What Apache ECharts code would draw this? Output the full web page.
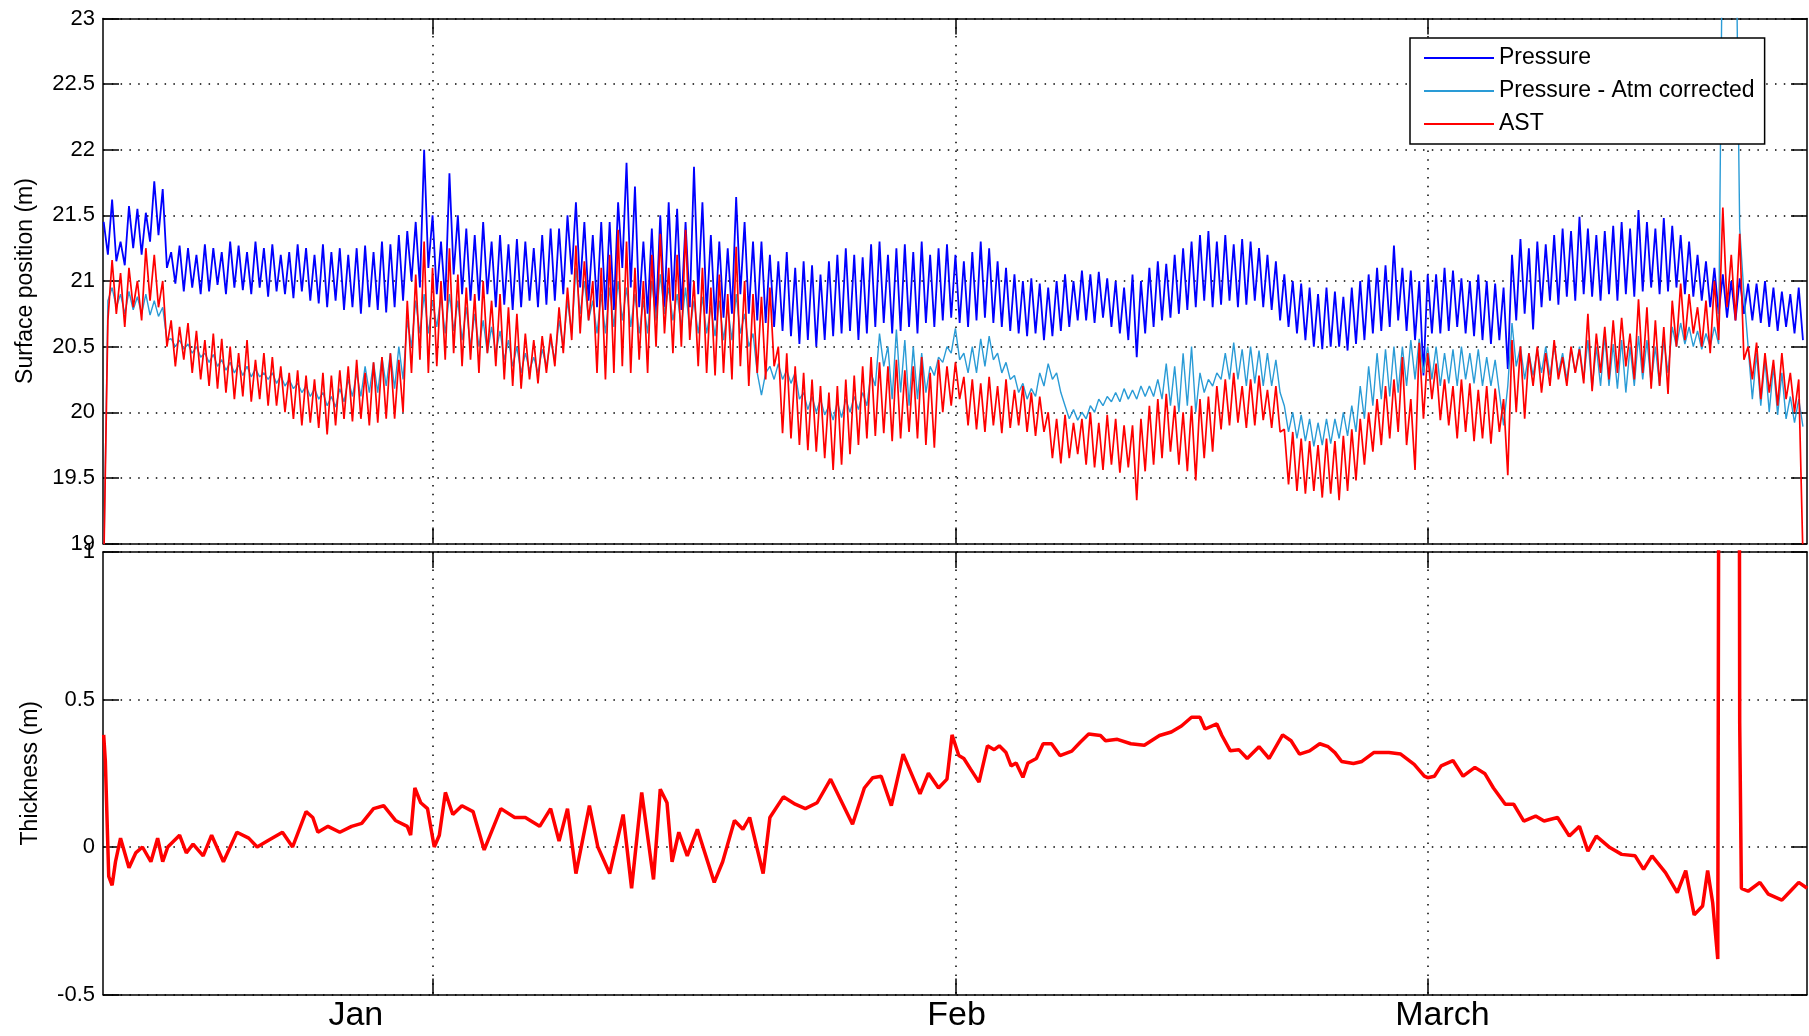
<!DOCTYPE html>
<html>
<head>
<meta charset="utf-8">
<title>Surface position / thickness</title>
<script src="https://cdn.jsdelivr.net/npm/echarts@6/dist/echarts.min.js"></script>
<style>
  html, body {margin: 0; padding: 0; background: #fff;}
  #chart {width: 1809px; height: 1036px;}
</style>
</head>
<body>
<div id="chart"></div>
<script>
// x = days from 1 Jan, top panel sampled every 6 h starting 12 Dec 12:00
var startDay = -19.5;
var stepDay = 0.25;

var pressure = [
  21.45,21.2,21.62,21.15, 21.3,21.12,21.57,21.25, 21.55,21.2,21.52,21.3, 21.76,21.35,21.7,21.1,
  21.22,20.98,21.27,20.92, 21.25,20.95,21.2,20.9, 21.28,20.92,21.25,20.97, 21.22,20.9,21.3,20.95,
  21.27,20.93,21.22,20.9, 21.3,20.95,21.25,20.88, 21.28,20.92,21.2,20.9, 21.22,20.87,21.28,20.92,
  21.25,20.85,21.2,20.83, 21.28,20.8,21.22,20.85, 21.25,20.78,21.2,20.8, 21.25,20.75,21.27,20.8,
  21.22,20.78,21.3,20.76, 21.28,20.8,21.35,20.85, 21.38,21.0,21.45,20.95, 22.0,21.1,21.5,20.9,
  21.3,20.85,21.82,21.05, 21.5,20.9,21.4,20.85, 21.35,20.85,21.45,20.9, 21.3,20.8,21.35,20.82,
  21.28,20.78,21.32,20.8, 21.3,20.85,21.25,20.8, 21.35,20.82,21.4,20.85, 21.4,20.9,21.5,21.05,
  21.6,20.95,21.45,20.85, 21.35,20.8,21.45,20.78, 21.45,20.78,21.6,21.1, 21.9,20.95,21.72,20.8,
  21.3,20.75,21.4,20.72, 21.5,20.8,21.6,20.85, 21.55,20.78,21.45,20.8, 21.87,20.9,21.6,20.75,
  21.35,20.7,21.3,20.72, 21.25,20.75,21.64,20.9, 21.45,20.75,21.3,20.7, 21.3,20.68,21.2,20.65,
  21.15,20.62,21.22,20.58, 21.1,20.52,21.15,20.55, 21.12,20.5,21.05,20.55, 21.15,20.58,21.2,20.6,
  21.25,20.62,21.2,20.55, 21.18,20.6,21.28,20.65, 21.3,20.68,21.2,20.6, 21.25,20.62,21.28,20.65,
  21.22,20.6,21.3,20.68, 21.2,20.65,21.25,20.7, 21.28,20.72,21.2,20.68, 21.15,20.65,21.22,20.7,
  21.3,20.72,21.25,20.68, 21.15,20.65,21.1,20.62, 21.05,20.6,21.0,20.58, 21.02,20.6,20.98,20.55,
  20.95,20.58,21.0,20.62, 21.05,20.65,21.0,20.7, 21.08,20.7,21.05,20.68, 21.07,20.72,21.02,20.65,
  21.0,20.6,20.95,20.55, 21.05,20.42,21.0,20.6, 21.1,20.65,21.15,20.7, 21.13,20.72,21.2,20.75,
  21.25,20.78,21.3,20.8, 21.35,20.85,21.38,20.8, 21.3,20.82,21.35,20.85, 21.28,20.8,21.32,20.82,
  21.3,20.85,21.25,20.8, 21.2,20.78,21.15,20.7, 21.05,20.65,21.0,20.6, 20.98,20.55,20.95,20.5,
  20.9,20.48,20.95,20.5, 20.92,20.5,20.88,20.47, 20.95,20.52,21.0,20.55, 21.05,20.6,21.1,20.62,
  21.12,20.65,21.27,20.7, 21.1,20.62,21.08,20.55, 21.0,20.28,21.05,20.6, 21.05,20.6,21.1,20.62,
  21.08,20.65,21.02,20.6, 21.0,20.58,21.05,20.55, 21.0,20.52,20.98,20.55, 20.95,20.33,21.2,20.7,
  21.32,20.75,21.25,20.63, 21.3,20.8,21.28,20.85, 21.35,20.82,21.4,20.88, 21.38,20.85,21.49,20.9,
  21.4,20.88,21.35,20.85, 21.38,20.9,21.42,20.85, 21.45,20.9,21.4,20.88, 21.54,20.92,21.45,20.95,
  21.4,20.9,21.48,20.92, 21.42,20.95,21.35,20.9, 21.3,20.88,21.2,20.85, 21.15,20.8,21.1,20.75,
  21.05,20.72,21.0,20.7, 21.02,20.75,20.98,20.7, 20.98,20.68,21.0,20.65, 20.95,20.62,20.92,20.65,
  20.9,20.6,20.95,20.55
];

var pressureAtm = [
  18.8,20.85,20.95,20.8, 20.9,20.75,20.92,20.78, 20.88,20.75,20.9,20.74, 20.85,20.73,20.8,20.55,
  20.56,20.5,20.55,20.48, 20.52,20.45,20.5,20.42, 20.45,20.38,20.44,20.35, 20.4,20.32,20.38,20.3,
  20.36,20.28,20.35,20.27, 20.33,20.27,20.3,20.25, 20.3,20.22,20.28,20.2, 20.25,20.18,20.22,20.15,
  20.2,20.12,20.18,20.1, 20.15,20.05,20.12,20.04, 20.18,20.08,20.25,20.12, 20.3,20.12,20.35,20.15,
  20.38,20.15,20.42,20.2, 20.45,20.18,20.5,20.25, 20.7,20.5,20.85,20.6, 20.9,20.6,20.85,20.65,
  20.88,20.6,20.9,20.62, 20.85,20.55,20.8,20.5, 20.75,20.5,20.7,20.45, 20.65,20.45,20.62,20.4,
  20.55,20.35,20.5,20.3, 20.45,20.32,20.42,20.3, 20.48,20.35,20.55,20.4, 20.7,20.5,20.85,20.6,
  21.1,20.75,21.0,20.7, 20.85,20.6,20.9,20.6, 20.95,20.65,21.0,20.7, 20.95,20.65,20.9,20.6,
  20.85,20.6,21.0,20.7, 21.05,20.75,20.95,20.7, 20.9,20.65,20.95,20.62, 20.85,20.6,20.88,20.6,
  20.8,20.58,20.85,20.55, 20.8,20.55,20.9,20.6, 20.75,20.5,20.6,20.3, 20.13,20.3,20.35,20.25,
  20.37,20.25,20.32,20.22, 20.3,20.1,20.15,20.02, 20.12,20.0,20.1,19.98, 20.05,19.94,20.08,19.96,
  20.1,20.0,20.12,20.02, 20.15,20.05,20.3,20.2, 20.6,20.35,20.5,20.1, 20.63,20.15,20.55,20.05,
  20.5,20.1,20.45,20.15, 20.35,20.28,20.42,20.38, 20.5,20.45,20.64,20.4, 20.45,20.3,20.5,20.3,
  20.56,20.35,20.58,20.4, 20.45,20.3,20.38,20.25, 20.28,20.15,20.22,20.1, 20.18,20.12,20.3,20.2,
  20.37,20.25,20.3,20.15, 20.05,19.95,20.02,19.94, 20.0,19.95,20.05,20.0, 20.1,20.05,20.12,20.08,
  20.15,20.08,20.18,20.1, 20.17,20.1,20.2,20.12, 20.2,20.12,20.25,20.1, 20.37,20.05,20.35,20.0,
  20.45,20.05,20.5,20.0, 20.3,20.15,20.25,20.2, 20.3,20.25,20.45,20.25, 20.53,20.25,20.48,20.2,
  20.5,20.22,20.47,20.2, 20.45,20.2,20.4,20.15, 20.05,19.85,20.0,19.8, 19.98,19.78,19.95,19.74,
  19.92,19.75,19.95,19.76, 19.95,19.8,20.0,19.82, 20.05,19.85,20.2,19.95, 20.35,20.05,20.45,20.1,
  20.48,20.12,20.5,20.15, 20.5,20.2,20.55,20.25, 20.56,20.3,20.5,20.25, 20.5,20.2,20.45,20.22,
  20.48,20.2,20.5,20.25, 20.45,20.22,20.48,20.2, 20.42,20.2,20.4,20.15, 19.9,20.2,20.68,20.35,
  20.5,20.25,20.45,20.28, 20.48,20.3,20.5,20.28, 20.5,20.3,20.45,20.25, 20.48,20.3,20.5,20.25,
  20.55,20.18,20.5,20.2, 20.58,20.2,20.52,20.18, 20.55,20.15,20.5,20.2, 20.58,20.25,20.55,20.22,
  20.5,20.2,20.55,20.3, 20.65,20.5,20.68,20.52, 20.65,20.5,20.62,20.48, 20.6,20.5,20.65,20.52,
  24.0,24.0,24.0,24.0, 21.4,20.9,20.5,20.1, 20.45,20.05,20.4,20.0, 20.35,19.98,20.3,19.95,
  20.12,19.92,20.1,19.89
];

var ast = [
  18.8,20.7,21.16,20.75, 21.06,20.65,21.1,20.8, 21.0,20.7,21.25,20.85, 21.2,20.8,21.0,20.5,
  20.7,20.35,20.65,20.4, 20.68,20.3,20.62,20.25, 20.55,20.2,20.6,20.18, 20.56,20.15,20.5,20.1,
  20.45,20.12,20.55,20.08, 20.4,20.1,20.45,20.05, 20.42,20.05,20.35,20.0, 20.3,19.95,20.32,19.9,
  20.28,19.92,20.25,19.88, 20.3,19.83,20.28,19.9, 20.32,19.95,20.35,19.93, 20.4,19.95,20.3,19.9,
  20.38,19.92,20.42,19.95, 20.45,19.95,20.4,20.0, 20.85,20.3,21.05,20.4, 21.3,20.3,21.1,20.35,
  21.0,20.4,21.25,20.45, 21.05,20.35,20.95,20.4, 20.9,20.3,21.0,20.45, 20.85,20.35,20.9,20.25,
  20.8,20.2,20.75,20.18, 20.6,20.25,20.55,20.22, 20.58,20.3,20.6,20.35, 20.8,20.45,20.95,20.55,
  21.27,20.6,21.15,20.7, 21.0,20.3,21.1,20.25, 21.2,20.3,21.39,20.35, 21.3,20.3,21.1,20.4,
  21.0,20.3,21.2,20.5, 21.36,20.6,21.1,20.45, 21.2,20.5,21.39,20.55, 21.0,20.35,21.1,20.3,
  20.95,20.28,21.05,20.3, 20.9,20.25,21.26,20.35, 21.0,20.2,20.9,20.3, 20.88,20.25,20.95,20.35,
  20.5,19.84,20.45,19.8, 20.35,19.75,20.3,19.71, 20.25,19.7,20.2,19.65, 20.15,19.56,20.2,19.6,
  20.25,19.68,20.28,19.75, 20.35,19.8,20.42,19.82, 20.38,19.84,20.35,19.78, 20.4,19.8,20.32,19.85,
  20.35,19.8,20.42,19.75, 20.3,19.73,20.4,20.0, 20.35,20.05,20.38,20.1, 20.27,19.9,20.25,19.87,
  20.22,19.85,20.27,19.9, 20.2,19.84,20.25,19.88, 20.17,19.9,20.2,19.85, 20.15,19.82,20.12,19.85,
  20.0,19.65,19.95,19.61, 19.98,19.65,19.92,19.68, 19.95,19.6,20.0,19.58, 19.92,19.56,19.98,19.6,
  19.95,19.54,19.9,19.58, 19.9,19.33,19.95,19.55, 20.05,19.6,20.1,19.65, 20.14,19.7,20.05,19.6,
  20.0,19.55,20.05,19.48, 20.1,19.65,20.12,19.7, 20.2,19.87,20.25,19.9, 20.3,19.92,20.2,19.88,
  20.25,19.9,20.28,19.94, 20.17,19.88,20.2,19.85, 19.87,19.45,19.85,19.4, 19.8,19.38,19.78,19.4,
  19.75,19.35,19.8,19.38, 19.78,19.33,19.82,19.4, 19.87,19.48,19.95,19.6, 20.0,19.7,20.1,19.75,
  20.2,19.8,20.25,19.85, 20.42,19.75,20.1,19.56, 20.53,19.95,20.45,20.1, 20.37,19.94,20.25,19.9,
  20.2,19.8,20.25,19.85, 20.22,19.78,20.17,19.8, 20.2,19.76,20.18,19.85, 20.1,19.52,20.55,20.0,
  20.5,19.95,20.45,20.2, 20.5,20.15,20.45,20.2, 20.55,20.25,20.42,20.2, 20.5,20.3,20.48,20.22,
  20.75,20.16,20.6,20.3, 20.65,20.25,20.7,20.3, 20.72,20.35,20.6,20.25, 20.86,20.3,20.8,20.18,
  20.7,20.2,20.65,20.14, 20.85,20.5,20.98,20.55, 20.9,20.6,20.8,20.5, 20.85,20.45,21.0,20.55,
  21.56,20.8,21.2,20.7, 21.36,20.4,20.5,20.25, 20.53,20.1,20.45,20.15, 20.4,20.05,20.45,20.1,
  20.3,20.0,20.25,18.9
];

// thickness, irregular points
var thickDays = [
  -19.5,-19.4,-19.2,-19.0,-18.8,-18.5,-18.0,-17.6,-17.2,-16.7,-16.3,-16.0,-15.7,-15.0,-14.6,-14.2,
  -13.6,-13.1,-12.4,-11.6,-10.9,-10.4,-9.8,-8.9,-8.3,-7.5,-7.1,-6.8,-6.2,-5.5,-4.8,-4.2,
  -3.5,-2.9,-2.2,-1.5,-1.3,-1.05,-0.7,-0.3,0.1,0.4,0.76,1.2,1.74,2.4,3.06,4.05,
  4.87,5.5,6.35,7.0,7.5,8.0,8.5,9.3,9.8,10.5,11.3,11.8,12.4,13.1,13.5,13.9,
  14.2,14.6,15.1,15.7,16.7,17.2,17.9,18.4,18.8,19.6,20.0,20.8,21.5,22.1,22.8,23.6,
  24.9,25.6,26.1,26.6,27.2,27.9,28.9,29.4,30.0,30.5,30.8,31.2,31.5,31.9,32.4,32.9,
  33.3,33.6,34.0,34.3,34.6,35.0,35.3,35.8,36.2,36.7,37.2,37.9,38.4,38.9,39.6,39.9,
  40.6,41.4,42.2,43.1,43.8,44.4,45.0,45.5,45.8,46.5,46.8,47.3,47.8,48.3,49.0,49.6,
  50.4,50.9,51.4,52.0,52.6,53.1,53.5,53.9,54.6,55.1,55.8,56.7,57.4,58.2,58.8,59.0,
  59.4,59.8,60.5,61.1,61.8,62.4,62.9,63.6,64.1,64.7,65.4,65.9,66.7,67.4,68.0,68.5,
  69.0,69.8,70.5,71.3,71.8,72.3,73.1,73.8,74.3,74.8,75.3,75.6,75.9,76.2,76.3,77.45,
  77.5,77.6,78.0,78.7,79.2,80.0,80.5,81.0,81.5
];
var thickVals = [
  0.38,0.29,-0.1,-0.13,-0.05,0.03,-0.07,-0.02,0.0,-0.05,0.03,-0.05,0.0,0.04,-0.02,0.01,
  -0.03,0.04,-0.05,0.05,0.03,0.0,0.02,0.05,0.0,0.12,0.1,0.05,0.07,0.05,0.07,0.08,
  0.13,0.14,0.09,0.07,0.04,0.2,0.15,0.13,0.0,0.04,0.185,0.11,0.14,0.12,-0.01,0.13,
  0.1,0.1,0.07,0.13,0.02,0.13,-0.09,0.14,0.0,-0.09,0.11,-0.14,0.185,-0.11,0.196,0.15,
  -0.05,0.05,-0.03,0.06,-0.12,-0.05,0.09,0.06,0.1,-0.09,0.1,0.17,0.145,0.13,0.15,0.23,
  0.077,0.2,0.235,0.24,0.14,0.315,0.18,0.25,0.2,0.23,0.38,0.31,0.3,0.264,0.22,0.343,
  0.33,0.343,0.32,0.275,0.285,0.236,0.285,0.3,0.35,0.35,0.31,0.325,0.355,0.383,0.378,0.36,
  0.365,0.35,0.345,0.378,0.39,0.41,0.44,0.44,0.4,0.417,0.378,0.326,0.33,0.3,0.34,0.3,
  0.38,0.36,0.315,0.326,0.35,0.34,0.32,0.29,0.283,0.29,0.32,0.32,0.315,0.28,0.24,0.235,
  0.24,0.275,0.293,0.24,0.27,0.248,0.2,0.145,0.145,0.088,0.105,0.088,0.1,0.037,0.07,-0.014,
  0.037,-0.002,-0.025,-0.03,-0.076,-0.03,-0.087,-0.155,-0.08,-0.23,-0.2,-0.08,-0.19,-0.38,2.5,2.5,
  0.42,-0.14,-0.15,-0.12,-0.16,-0.18,-0.15,-0.12,-0.14
];

var xMin = -19.54, xMax = 81.49;
var monthTicks = [0, 31, 59];               // 1 Jan, 1 Feb, 1 Mar
var monthLabelDays = [-4.55, 31.07, 59.88]; // where the month names sit
var monthLabels = ['Jan', 'Feb', 'March'];

var fontFam = 'Liberation Sans, Arial, sans-serif';

function withDays(vals) {
  return vals.map(function (v, i) { return [startDay + i * stepDay, v]; });
}

function xAxisDef(grid, pos, labels) {
  return {
    type: 'value', gridIndex: grid, position: pos,
    min: xMin, max: xMax,
    axisLine: {show: true, onZero: false, lineStyle: {color: '#000', width: 1.5}},
    axisTick: {show: true, inside: true, length: 16, customValues: monthTicks, lineStyle: {color: '#000', width: 1.5}},
    splitLine: {show: pos === 'bottom', lineStyle: {color: '#000', width: 1.5, type: [1.5, 7.3]}},
    axisLabel: labels ? {
      show: true, customValues: monthLabelDays, margin: 4,
      fontSize: 34, color: '#000', fontFamily: fontFam,
      formatter: function (v) {
        var best = 0;
        for (var k = 1; k < monthLabelDays.length; k++) {
          if (Math.abs(monthLabelDays[k] - v) < Math.abs(monthLabelDays[best] - v)) best = k;
        }
        return monthLabels[best];
      }
    } : {show: false}
  };
}

function yAxisDef(grid, pos, min, max, name, gap) {
  var left = pos === 'left';
  return {
    type: 'value', gridIndex: grid, position: pos,
    min: min, max: max, interval: 0.5,
    name: left ? name : '', nameLocation: 'middle', nameGap: gap,
    nameTextStyle: {fontSize: 23, color: '#000', fontFamily: fontFam},
    axisLine: {show: true, onZero: false, lineStyle: {color: '#000', width: 1.5}},
    axisTick: {show: true, inside: true, length: 16, lineStyle: {color: '#000', width: 1.5}},
    splitLine: {show: left, lineStyle: {color: '#000', width: 1.5, type: [1.5, 7.3]}},
    axisLabel: {show: left, margin: 8, fontSize: 22, color: '#000', fontFamily: fontFam,
      showMinLabel: true, showMaxLabel: true}
  };
}

var chart = echarts.init(document.getElementById('chart'));
chart.setOption({
  animation: false,
  backgroundColor: '#fff',
  grid: [
    {left: 103, right: 2, top: 18.5, height: 525},
    {left: 103, right: 2, top: 552, height: 442.5}
  ],
  legend: {
    orient: 'vertical', left: 1410, top: 38,
    data: ['Pressure', 'Pressure - Atm corrected', 'AST'],
    icon: 'rect',
    itemWidth: 70, itemHeight: 2, itemGap: 9, itemTextGap: 7,
    padding: [8, 10, 8, 14],
    backgroundColor: '#fff', borderColor: '#000', borderWidth: 1.5,
    textStyle: {fontSize: 23, lineHeight: 24, color: '#000', fontFamily: fontFam}
  },
  xAxis: [
    xAxisDef(0, 'bottom', false),
    xAxisDef(0, 'top', false),
    xAxisDef(1, 'bottom', true),
    xAxisDef(1, 'top', false)
  ],
  yAxis: [
    yAxisDef(0, 'left', 19, 23, 'Surface position (m)', 66),
    yAxisDef(0, 'right', 19, 23),
    yAxisDef(1, 'left', -0.5, 1, 'Thickness (m)', 61),
    yAxisDef(1, 'right', -0.5, 1)
  ],
  series: [
    {
      name: 'Pressure', type: 'line', xAxisIndex: 0, yAxisIndex: 0,
      symbol: 'none', data: withDays(pressure),
      lineStyle: {color: '#0000ff', width: 1.8}, itemStyle: {color: '#0000ff'}
    },
    {
      name: 'Pressure - Atm corrected', type: 'line', xAxisIndex: 0, yAxisIndex: 0,
      symbol: 'none', data: withDays(pressureAtm),
      lineStyle: {color: '#2a9bd6', width: 1.4}, itemStyle: {color: '#2a9bd6'}
    },
    {
      name: 'AST', type: 'line', xAxisIndex: 0, yAxisIndex: 0,
      symbol: 'none', data: withDays(ast),
      lineStyle: {color: '#ff0000', width: 1.7}, itemStyle: {color: '#ff0000'}
    },
    {
      name: 'Thickness', type: 'line', xAxisIndex: 2, yAxisIndex: 2,
      symbol: 'none',
      data: thickDays.map(function (d, i) { return [d, thickVals[i]]; }),
      lineStyle: {color: '#ff0000', width: 3.5}, itemStyle: {color: '#ff0000'}
    }
  ]
});
</script>
</body>
</html>
